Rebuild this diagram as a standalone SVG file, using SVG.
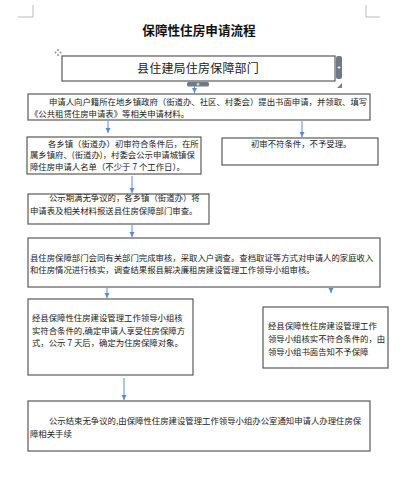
<svg xmlns="http://www.w3.org/2000/svg" width="411" height="500" viewBox="0 0 411 500">
<style>
.bx{fill:#fff;stroke:#5a5a5a;stroke-width:1.2}
.t{font-family:"Noto Sans CJK SC","Liberation Sans",sans-serif;font-size:8.4px;fill:#222}
.ar{stroke:#5b8ccc;stroke-width:1;fill:none;marker-end:url(#ah)}
.cm{stroke:#aaa;stroke-width:0.8;fill:none}
</style>
<defs>
<marker id="ah" markerWidth="6" markerHeight="6" refX="5" refY="3" orient="auto" markerUnits="userSpaceOnUse">
<path d="M0,0.5 L5,3 L0,5.5 Z" fill="#5b8ccc"/>
</marker>
</defs>
<rect width="411" height="500" fill="#fff"/>
<path class="cm" d="M18,17 H33 V5 M380,17 H366 V5"/>
<text x="199" y="35" text-anchor="middle" font-family="Noto Sans CJK SC,sans-serif" font-size="12.6" font-weight="bold" fill="#111">保障性住房申请流程</text>

<g id="header">
<rect class="bx" x="62" y="56" width="273" height="25"/>
<text x="198" y="73" text-anchor="middle" font-family="Noto Sans CJK SC,sans-serif" font-size="12" fill="#222" letter-spacing="0.2">县住建局住房保障部门</text>
</g>
<g id="handles">
<rect x="336" y="56" width="6" height="23" rx="2" fill="#6f7a86"/>
<path d="M337.5,67.5 H340.5 M339,66 V69" stroke="#fff" stroke-width="0.8"/>
<rect x="187" y="82" width="22" height="4.5" rx="1.5" fill="#6f7a86"/>
<path d="M196.5,84.2 H199.5 M198,82.7 V85.7" stroke="#fff" stroke-width="0.8"/>
<path d="M337,88 L342,83 L342,88 Z" fill="#7a8490"/>
<g fill="#8a95a3"><circle cx="58" cy="50" r="1"/><circle cx="58" cy="55" r="1"/><circle cx="55.5" cy="52.5" r="1"/><circle cx="60.5" cy="52.5" r="1"/></g>
</g>

<g id="n1">
<rect class="bx" x="28" y="94" width="342" height="26"/>
<text class="t" x="49" y="104.5">申请人向户籍所在地乡镇政府（街道办、社区、村委会）提出书面申请，并领取、填写</text>
<text class="t" x="30" y="116.5">《公共租赁住房申请表》等相关申请材料。</text>
</g>
<g id="n2">
<rect class="bx" x="27" y="137" width="174" height="37"/>
<text class="t" x="48" y="146.5">各乡镇（街道办）初审符合条件后，在所</text>
<text class="t" x="30" y="158">属乡镇府、(街道办)，村委会公示申请城镇保</text>
<text class="t" x="30" y="170">障住房申请人名单（不少于 7 个工作日）。</text>
</g>
<g id="n3">
<rect class="bx" x="222" y="138" width="156" height="27"/>
<text class="t" x="251" y="146.5">初审不符条件，不予受理。</text>
</g>
<g id="n4">
<rect class="bx" x="28" y="194" width="181" height="30"/>
<text class="t" x="49" y="200.5">公示期满无争议的，各乡镇（街道办）将</text>
<text class="t" x="30" y="213.5">申请表及相关材料报送县住房保障部门审查。</text>
</g>
<g id="n5">
<rect class="bx" x="28" y="238" width="352" height="49"/>
<text class="t" x="30" y="260.5">县住房保障部门会同有关部门完成审核，采取入户调查。查档取证等方式对申请人的家庭收入</text>
<text class="t" x="30" y="272.5">和住房情况进行核实，调查结果报县解决廉租房建设管理工作领导小组审核。</text>
</g>
<g id="n6">
<rect class="bx" x="28" y="299" width="165" height="76"/>
<text class="t" x="32" y="321">经县保障性住房建设管理工作领导小组核</text>
<text class="t" x="32" y="333.5">实符合条件的,确定申请人享受住房保障方</text>
<text class="t" x="32" y="345.5">式，公示 7 天后，确定为住房保障对象。</text>
</g>
<g id="n7">
<rect class="bx" x="263" y="307" width="125" height="61"/>
<text class="t" x="268" y="328.5">经县保障性住房建设管理工作</text>
<text class="t" x="268" y="341.5">领导小组核实不符合条件的，由</text>
<text class="t" x="268" y="355">领导小组书面告知不予保障</text>
</g>
<g id="n8">
<rect class="bx" x="28" y="401" width="342" height="50"/>
<text class="t" x="49" y="423.5">公示结束无争议的,由保障性住房建设管理工作领导小组办公室通知申请人办理住房保</text>
<text class="t" x="30" y="436.5">障相关手续</text>
</g>

<g id="connectors">
<path class="ar" d="M194.5,86.5 V93"/>
<path class="ar" d="M108,121 V133"/>
<path class="ar" d="M302,121 V137"/>
<path class="ar" d="M132,176 V193"/>
<path class="ar" d="M132,225 V237"/>
<path class="ar" d="M107,288 V298"/>
<path class="ar" d="M331,288 V293"/>
<path class="ar" d="M124,378 V400"/>
</g>
</svg>
